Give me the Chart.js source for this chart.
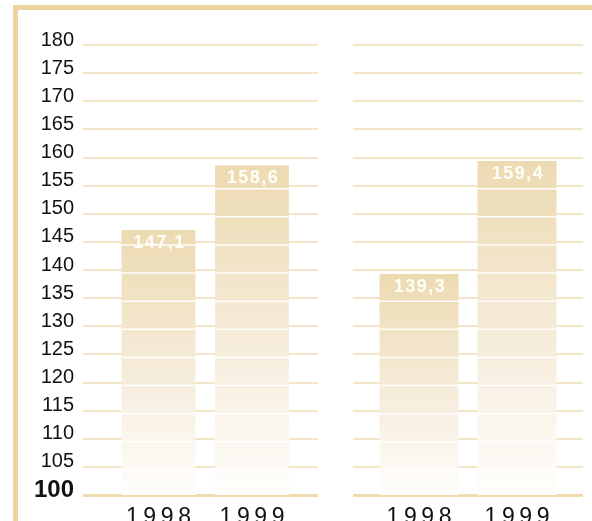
<!DOCTYPE html>
<html>
<head>
<meta charset="utf-8">
<script src="https://cdn.jsdelivr.net/npm/chart.js@4/dist/chart.umd.min.js"></script>
<style>
  html, body { margin: 0; padding: 0; width: 592px; height: 521px; overflow: hidden; background: #fff; }
  #frame { position: absolute; left: 13px; top: 5px; width: 620px; height: 600px;
           border-left: 5px solid #ebd4a0; border-top: 5px solid #ebd4a0; }
  #leftChart { position: absolute; left: 0; top: 0; }
  #rightChart { position: absolute; left: 353px; top: 0; }
</style>
</head>
<body>
<div id="frame"></div>
<canvas id="leftChart"></canvas>
<canvas id="rightChart"></canvas>
<script>
// data
const years = ['1998', '1999'];
const leftValues = [147.1, 158.6];
const rightValues = [139.3, 159.4];
const yMin = 100, yMax = 180, yStep = 5;

Chart.defaults.font.family = 'Arial, "Liberation Sans", sans-serif';
Chart.defaults.color = '#111';

const fmt = v => v.toFixed(1).replace('.', ',');
const spaced = s => s.split('').join('\u2009');

// white band lines across bars + value labels
const barDecor = {
  id: 'barDecor',
  afterDatasetsDraw(chart) {
    const ctx = chart.ctx;
    const y = chart.scales.y;
    const meta = chart.getDatasetMeta(0);
    const vals = chart.data.datasets[0].data;
    ctx.save();
    meta.data.forEach((bar, i) => {
      const p = bar.getProps(['x', 'y', 'width'], true);
      ctx.strokeStyle = 'rgba(255,255,255,0.95)';
      ctx.lineWidth = 1.5;
      y.ticks.forEach(t => {
        const py = y.getPixelForValue(t.value) + 3;
        if (t.value > yMin && py > p.y + 3) {
          ctx.beginPath();
          ctx.moveTo(p.x - p.width / 2, py);
          ctx.lineTo(p.x + p.width / 2, py);
          ctx.stroke();
        }
      });
      ctx.fillStyle = '#fffdf8';
      ctx.font = 'bold 18px Arial, "Liberation Sans", sans-serif';
      ctx.letterSpacing = '1.5px';
      ctx.textAlign = 'center';
      ctx.textBaseline = 'middle';
      ctx.fillText(fmt(vals[i].y), p.x + 1, p.y + 13);
    });
    ctx.restore();
  }
};

function barFill(c) {
  const ch = c.chart;
  const y = ch.scales.y;
  if (!y || c.type !== 'data' || !c.parsed) return '#eddcb4';
  const top = y.getPixelForValue(c.parsed.y);
  const base = y.getPixelForValue(yMin);
  if (!Number.isFinite(top) || !Number.isFinite(base) || top === base) return '#eddcb4';
  const g = ch.ctx.createLinearGradient(0, top, 0, base);
  g.addColorStop(0, '#ecdab1');
  g.addColorStop(0.6, '#f7eedf');
  g.addColorStop(1, '#fffefc');
  return g;
}

function makeChart(id, values, opts) {
  const el = document.getElementById(id);
  el.style.width = opts.width + 'px';
  el.style.height = '545px';
  return new Chart(el, {
    type: 'bar',
    data: {
      datasets: [{
        data: values.map((v, i) => ({ x: i, y: v })),
        backgroundColor: barFill,
        borderWidth: 0,
        categoryPercentage: 1,
        barPercentage: opts.barPct
      }]
    },
    options: {
      responsive: false,
      animation: false,
      layout: { padding: { top: 45, left: 0, right: 0, bottom: 0 } },
      plugins: { legend: { display: false }, tooltip: { enabled: false } },
      scales: {
        x: {
          type: 'linear',
          offset: false,
          min: opts.xMin,
          max: opts.xMax,
          afterFit: s => { s.height = 50; },
          grid: { display: false, offset: false },
          border: { display: false },
          ticks: {
            stepSize: 1,
            includeBounds: false,
            maxRotation: 0,
            autoSkip: false,
            padding: 1,
            font: { size: 23 },
            callback: v => (years[v] !== undefined ? spaced(years[v]) : '')
          }
        },
        y: {
          min: yMin,
          max: yMax,
          afterFit: s => { s.width = opts.axisWidth; },
          border: { display: false },
          grid: {
            drawTicks: false,
            color: c => (c.tick && c.tick.value === yMin ? '#eedcae' : '#f3e5c8'),
            lineWidth: c => (c.tick && c.tick.value === yMin ? 3 : 2)
          },
          ticks: {
            display: opts.showTicks,
            autoSkip: false,
            stepSize: yStep,
            padding: 9,
            labelOffset: -5,
            color: '#111',
            font: c => (c.tick && c.tick.value === yMin ? { size: 24, weight: 'bold' } : { size: 20 })
          }
        }
      }
    },
    plugins: [barDecor]
  });
}

makeChart('leftChart', leftValues, { width: 318, axisWidth: 83, showTicks: true, xMin: -0.807, xMax: 1.706, barPct: 0.79 });
makeChart('rightChart', rightValues, { width: 230, axisWidth: 0, showTicks: false, xMin: -0.673, xMax: 1.673, barPct: 0.805 });
</script>
</body>
</html>
